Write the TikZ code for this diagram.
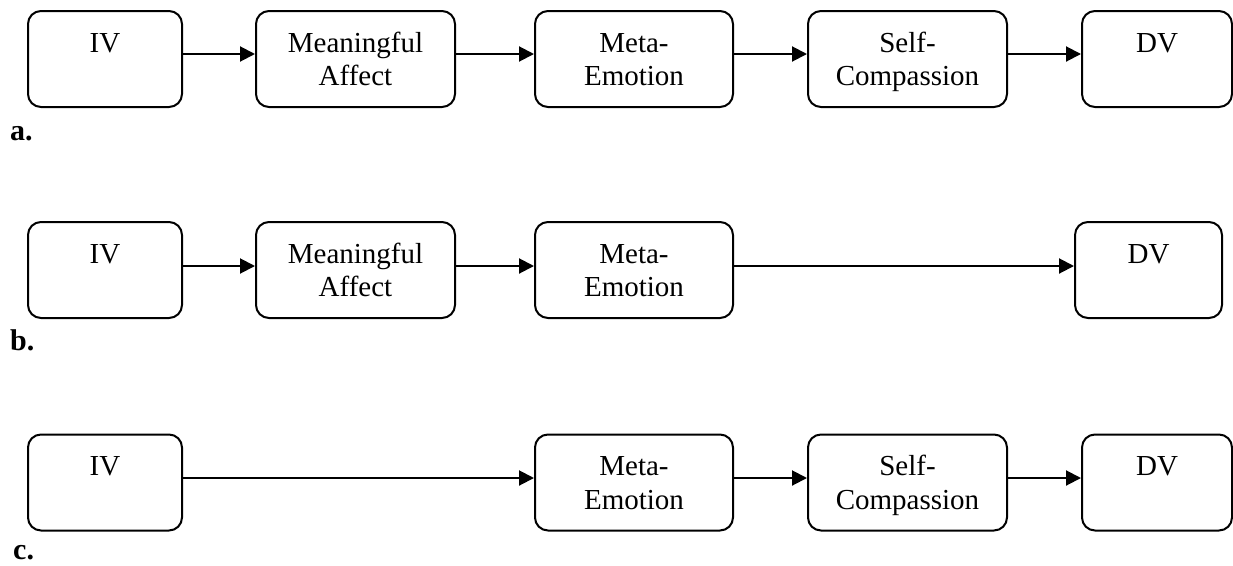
\documentclass[tikz,border=0pt]{standalone}
\usepackage{fontspec}
\setmainfont{Liberation Serif}
\usetikzlibrary{arrows.meta}
\newcommand{\twol}[1]{\begin{tabular}[t]{@{}c@{}}#1\end{tabular}}
\begin{document}
\begin{tikzpicture}[x=1pt,y=-1pt,
  box/.style={draw, line width=2pt, rounded corners=13pt, minimum height=96pt,
    inner sep=0pt, text height=41pt, text depth=55pt,
    font=\fontsize{29}{33.5}\selectfont},
  arr/.style={line width=2pt, -{Triangle[length=15pt,width=15pt]}},
  lab/.style={anchor=base west, inner sep=0pt, font=\fontsize{30}{34}\selectfont\bfseries}]
\useasboundingbox (0,0) rectangle (1233,565);
% row a
\node[box, minimum width=154pt] (a1) at (105,59) {\twol{IV}};
\node[box, minimum width=199pt] (a2) at (355.5,59) {\twol{Meaningful\\Affect}};
\node[box, minimum width=198pt] (a3) at (634,59) {\twol{Meta-\\Emotion}};
\node[box, minimum width=199pt] (a4) at (907.5,59) {\twol{Self-\\Compassion}};
\node[box, minimum width=150pt] (a5) at (1157,59) {\twol{DV}};
\draw[arr] ([yshift=5pt]a1.east) -- ([yshift=5pt]a2.west);
\draw[arr] ([yshift=5pt]a2.east) -- ([yshift=5pt]a3.west);
\draw[arr] ([yshift=5pt]a3.east) -- ([yshift=5pt]a4.west);
\draw[arr] ([yshift=5pt]a4.east) -- ([yshift=5pt]a5.west);
\node[lab] (la) at (10,140) {a.};
% row b
\node[box, minimum width=154pt] (b1) at (105,270) {\twol{IV}};
\node[box, minimum width=199pt] (b2) at (355.5,270) {\twol{Meaningful\\Affect}};
\node[box, minimum width=198pt] (b3) at (634,270) {\twol{Meta-\\Emotion}};
\node[box, minimum width=147pt] (b5) at (1148.5,270) {\twol{DV}};
\draw[arr] ([yshift=4pt]b1.east) -- ([yshift=4pt]b2.west);
\draw[arr] ([yshift=4pt]b2.east) -- ([yshift=4pt]b3.west);
\draw[arr] ([yshift=4pt]b3.east) -- ([yshift=4pt]b5.west);
\node[lab] (lb) at (10,350) {b.};
% row c
\node[box, minimum width=154pt] (c1) at (105,482.5) {\twol{IV}};
\node[box, minimum width=198pt] (c3) at (634,482.5) {\twol{Meta-\\Emotion}};
\node[box, minimum width=199pt] (c4) at (907.5,482.5) {\twol{Self-\\Compassion}};
\node[box, minimum width=150pt] (c5) at (1157,482.5) {\twol{DV}};
\draw[arr] ([yshift=4.5pt]c1.east) -- ([yshift=4.5pt]c3.west);
\draw[arr] ([yshift=4.5pt]c3.east) -- ([yshift=4.5pt]c4.west);
\draw[arr] ([yshift=4.5pt]c4.east) -- ([yshift=4.5pt]c5.west);
\node[lab] (lc) at (13,559) {c.};
\end{tikzpicture}
\end{document}
